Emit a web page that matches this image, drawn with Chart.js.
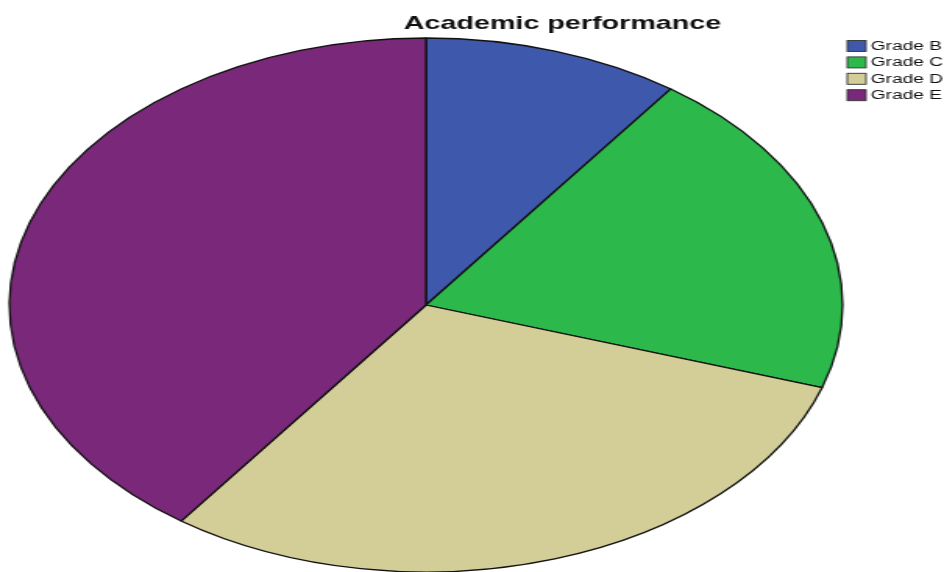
<!DOCTYPE html>
<html>
<head>
<meta charset="utf-8">
<script src="https://cdn.jsdelivr.net/npm/chart.js@4"></script>
<style>
  html, body { margin: 0; padding: 0; background: #fff; }
  #wrap { width: 944px; height: 572px; overflow: hidden; position: relative; }
  /* the original picture is a stretched pie, so the canvas is drawn narrow and widened */
  #pie { transform: scaleX(1.5603); transform-origin: 0 0; }
</style>
</head>
<body>
<div id="wrap"><canvas id="pie" width="605" height="572"></canvas></div>
<script>
const chartTitle = 'Academic performance';
const grades = ['Grade B', 'Grade C', 'Grade D', 'Grade E'];
const counts = [10, 20, 30, 40];
const sliceColors = ['#3e58ab', '#2db84c', '#d3ce97', '#7a2879'];

// title + boxed legend drawn the way the original (SPSS) output shows them
const spssDecor = {
  id: 'spssDecor',
  afterDraw(chart) {
    const ctx = chart.ctx;
    ctx.save();
    ctx.fillStyle = '#111';
    ctx.font = 'bold 18.4px "Liberation Sans", Arial, sans-serif';
    ctx.textAlign = 'center';
    ctx.textBaseline = 'alphabetic';
    ctx.fillText(chartTitle, 360.5, 28.5);

    ctx.font = '12.3px "Liberation Sans", Arial, sans-serif';
    ctx.textAlign = 'left';
    ctx.textBaseline = 'middle';
    grades.forEach((g, i) => {
      const top = 40.5 + i * 16.4;
      ctx.fillStyle = sliceColors[i];
      ctx.fillRect(543, top, 12, 11);
      ctx.strokeStyle = '#333';
      ctx.lineWidth = 0.9;
      ctx.strokeRect(543, top, 12, 11);
      ctx.fillStyle = '#111';
      ctx.fillText(g, 558, top + 6);
    });
    ctx.restore();
  }
};

new Chart(document.getElementById('pie'), {
  type: 'pie',
  data: {
    labels: grades,
    datasets: [{
      data: counts,
      backgroundColor: sliceColors,
      borderColor: '#111',
      borderWidth: 1.3,
      radius: 267,
    }]
  },
  options: {
    responsive: false,
    animation: false,
    layout: { padding: { top: 38, bottom: 0, left: 6, right: 65 } },
    plugins: {
      legend: { display: false },
      title: { display: false },
      tooltip: { enabled: false },
    },
  },
  plugins: [spssDecor]
});
</script>
</body>
</html>
